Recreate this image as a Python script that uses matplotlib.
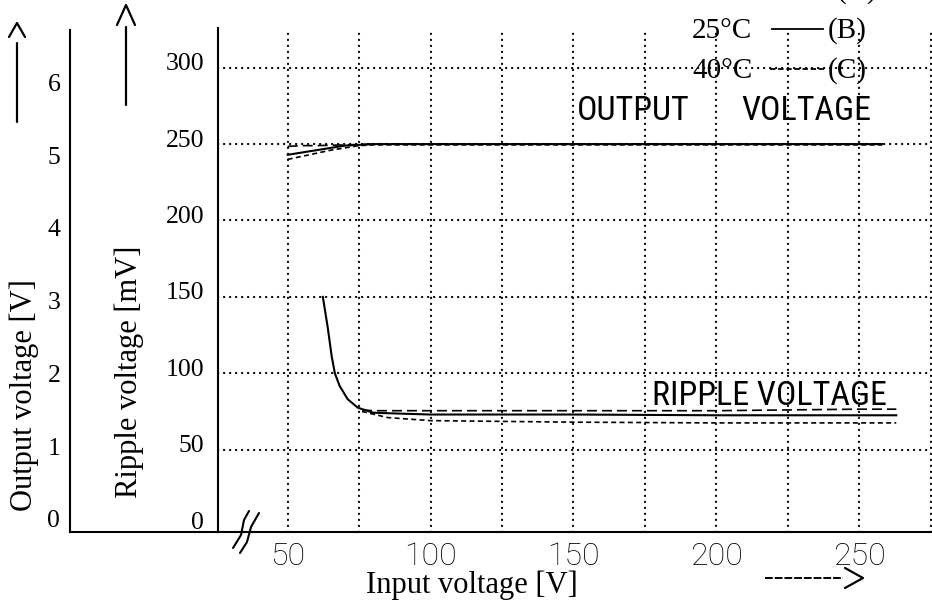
import matplotlib
matplotlib.use('Agg')
import matplotlib.pyplot as plt
import matplotlib.transforms as mtransforms
from matplotlib.lines import Line2D
from matplotlib import font_manager as fm

W, H = 932, 605

# ---------------- data ----------------
x_ticks = [50, 100, 150, 200, 250]
x_grid = [50, 75, 100, 125, 150, 175, 200, 225, 250, 275]
ripple_ticks = [0, 50, 100, 150, 200, 250, 300]
output_ticks = [0, 1, 2, 3, 4, 5, 6]

# Output voltage [V] vs input voltage [V]
out_x_A = [50, 55, 60, 70, 80, 100, 150, 200, 250, 258]
out_y_A = [4.97, 4.98, 4.98, 4.99, 5.0, 5.0, 5.0, 5.0, 5.0, 5.0]
out_x_B = [50, 55, 60, 65, 70, 75, 80, 100, 150, 200, 250, 258]
out_y_B = [4.86, 4.89, 4.92, 4.95, 4.98, 4.99, 5.0, 5.0, 5.0, 5.0, 5.0, 5.0]
out_x_C = [50, 55, 60, 65, 70, 75, 80, 100, 150, 200, 250, 258]
out_y_C = [4.80, 4.84, 4.88, 4.92, 4.95, 4.98, 4.99, 4.99, 4.99, 4.99, 4.99, 4.99]

# Ripple voltage [mV] vs input voltage [V]
rip_x_A = [76, 80, 90, 100, 150, 200, 225, 250, 263]
rip_y_A = [76, 75.5, 75.5, 75.5, 75.5, 75.5, 76, 76.5, 76.5]
rip_x_B = [62.3, 64, 65.4, 66.5, 68.2, 71, 74.5, 79.8, 89, 100, 150, 200, 250, 263]
rip_y_B = [150, 130, 111, 100, 91.6, 83, 77.5, 74.2, 73.6, 73, 73, 72.5, 72.5, 72.5]
rip_x_C = [76, 85, 100, 150, 200, 250, 263]
rip_y_C = [75, 71, 69, 68, 67.5, 67.5, 67.5]

SERIF = ['Liberation Serif', 'DejaVu Serif']
SANS = ['Roboto', 'Liberation Sans', 'DejaVu Sans']

# pick a condensed sans if one is installed
_names = {f.name for f in fm.fontManager.ttflist}
_cond = None
for cand in ['Liberation Sans Narrow', 'Roboto Condensed', 'Open Sans Condensed',
             'DejaVu Sans Condensed', 'Arial Narrow']:
    if cand in _names:
        _cond = cand
        break
_dejavu_cond = any(f.name == 'DejaVu Sans' and f.stretch in ('condensed', 'semi-condensed', 600)
                   for f in fm.fontManager.ttflist) if _cond is None else False
if _cond is not None:
    NARROW = dict(family=[_cond, 'DejaVu Sans'], fontsize=24.5)
elif _dejavu_cond:
    NARROW = dict(family='DejaVu Sans', fontstretch='condensed', fontsize=23)
else:
    NARROW = dict(family=['Roboto', 'DejaVu Sans'], fontsize=21)


def fx(x):
    return x / W


def fy(y):
    return 1 - y / H


fig = plt.figure(figsize=(W / 100, H / 100), dpi=100)
fig.patch.set_facecolor('white')

# ---------------- main (ripple) axes ----------------
ax = fig.add_axes([fx(218), fy(532), (932 - 218) / W, (532 - 28) / H])
ax.set_xlim(25.6, 275.5)
ax.set_ylim(-3.9, 326)
ax.set_facecolor('none')
for s in ['top', 'right']:
    ax.spines[s].set_visible(False)
for s in ['left', 'bottom']:
    ax.spines[s].set_linewidth(1.5)
ax.set_xticks(x_ticks)
ax.set_xticklabels([str(v) for v in x_ticks], family=SANS, fontsize=23, fontweight='light')
ax.set_yticks(ripple_ticks)
ax.set_yticklabels([str(v) for v in ripple_ticks], family=SERIF, fontsize=18.5)
ax.tick_params(length=0)
ax.tick_params(axis='y', pad=10)
ax.tick_params(axis='x', pad=7)
off = mtransforms.ScaledTranslation(0, 6 / 100, fig.dpi_scale_trans)
for lab in ax.get_yticklabels():
    lab.set_transform(lab.get_transform() + off)

dot = dict(color='black', linewidth=1.6, linestyle=(0, (0.1, 2.6)),
           dash_capstyle='round', zorder=1)
for v in ripple_ticks:
    if v > 0:
        ax.axhline(v, **dot)
for v in x_grid:
    ax.axvline(v, **dot)

ax.plot(rip_x_A, rip_y_A, color='black', lw=1.2, linestyle=(0, (6, 3)), zorder=3)
ax.plot(rip_x_B, rip_y_B, color='black', lw=1.5, zorder=3)
ax.plot(rip_x_C, rip_y_C, color='black', lw=1.2, linestyle=(0, (3, 2)), zorder=3)

# output voltage on the same vertical scale (250 mV <-> 5 V)
ax2 = ax.twinx()
ylo, yhi = ax.get_ylim()
ax2.set_ylim(ylo / 50, yhi / 50)
ax2.set_axis_off()
ax2.plot(out_x_A, out_y_A, color='black', lw=1.2, linestyle=(0, (6, 3)), zorder=3)
ax2.plot(out_x_B, out_y_B, color='black', lw=1.5, zorder=3)
ax2.plot(out_x_C, out_y_C, color='black', lw=1.2, linestyle=(0, (3, 2)), zorder=3)

# ---------------- outer (output voltage) axis ----------------
axo = fig.add_axes([fx(70), fy(532), (218 - 70) / W, (532 - 30) / H])
axo.set_facecolor('none')
axo.set_ylim(-0.18, 6.72)
axo.set_xticks([])
for s in ['top', 'right']:
    axo.spines[s].set_visible(False)
for s in ['left', 'bottom']:
    axo.spines[s].set_linewidth(1.5)
axo.set_yticks(output_ticks)
axo.set_yticklabels([str(v) for v in output_ticks], family=SERIF, fontsize=18.5)
axo.tick_params(length=0, pad=7)

# ---------------- labels ----------------
fig.text(fx(24), fy(395), 'Output voltage [V]', rotation=90, ha='center', va='center',
         family=SERIF, fontsize=22)
fig.text(fx(129), fy(372), 'Ripple voltage [mV]', rotation=90, ha='center', va='center',
         family=SERIF, fontsize=22)
fig.text(fx(472), fy(593), 'Input voltage [V]', ha='center', va='baseline',
         family=SERIF, fontsize=22)

fig.text(fx(577), fy(120), 'OUTPUT', ha='left', va='baseline', **NARROW)
fig.text(fx(806), fy(120), 'VOLTAGE', ha='center', va='baseline', **NARROW)
fig.text(fx(652), fy(405), 'RIPPLE VOLTAGE', ha='left', va='baseline', **NARROW)

# legend-like annotation (top right)
fig.text(fx(837), fy(-2), '(A)', ha='left', va='baseline', family=SERIF, fontsize=21)
fig.text(fx(692), fy(38), '25°C', ha='left', va='baseline', family=SERIF, fontsize=21)
fig.text(fx(828), fy(38), '(B)', ha='left', va='baseline', family=SERIF, fontsize=21)
fig.text(fx(692), fy(78), '40°C', ha='left', va='baseline', family=SERIF, fontsize=21)
fig.text(fx(828), fy(78), '(C)', ha='left', va='baseline', family=SERIF, fontsize=21)
fig.add_artist(Line2D([fx(772), fx(823)], [fy(29), fy(29)], color='black', lw=1.3,
                      transform=fig.transFigure))
fig.add_artist(Line2D([fx(770), fx(825)], [fy(69), fy(69)], color='black', lw=1.3,
                      linestyle=(0, (3, 1.5)), transform=fig.transFigure))


def fline(xs, ys, **kw):
    fig.add_artist(Line2D([fx(v) for v in xs], [fy(v) for v in ys], color='black',
                          transform=fig.transFigure, solid_capstyle='round', **kw))


# arrows
fline([17, 17], [43, 122], lw=1.6)
fline([9, 17, 25], [37, 23, 37], lw=1.6)
fline([126, 126], [27, 105], lw=1.6)
fline([117, 126, 135], [25, 5, 25], lw=1.6)
fline([765, 843], [578, 578], lw=1.4, linestyle=(0, (4, 1)))
fline([845, 863, 845], [568, 578, 588], lw=1.6)

# axis break mark
fline([233, 241, 244, 249], [548, 535, 520, 511], lw=1.5)
fline([240, 247, 251, 259], [553, 542, 527, 513], lw=1.5)

fig.savefig('out.png', dpi=100, facecolor='white')
